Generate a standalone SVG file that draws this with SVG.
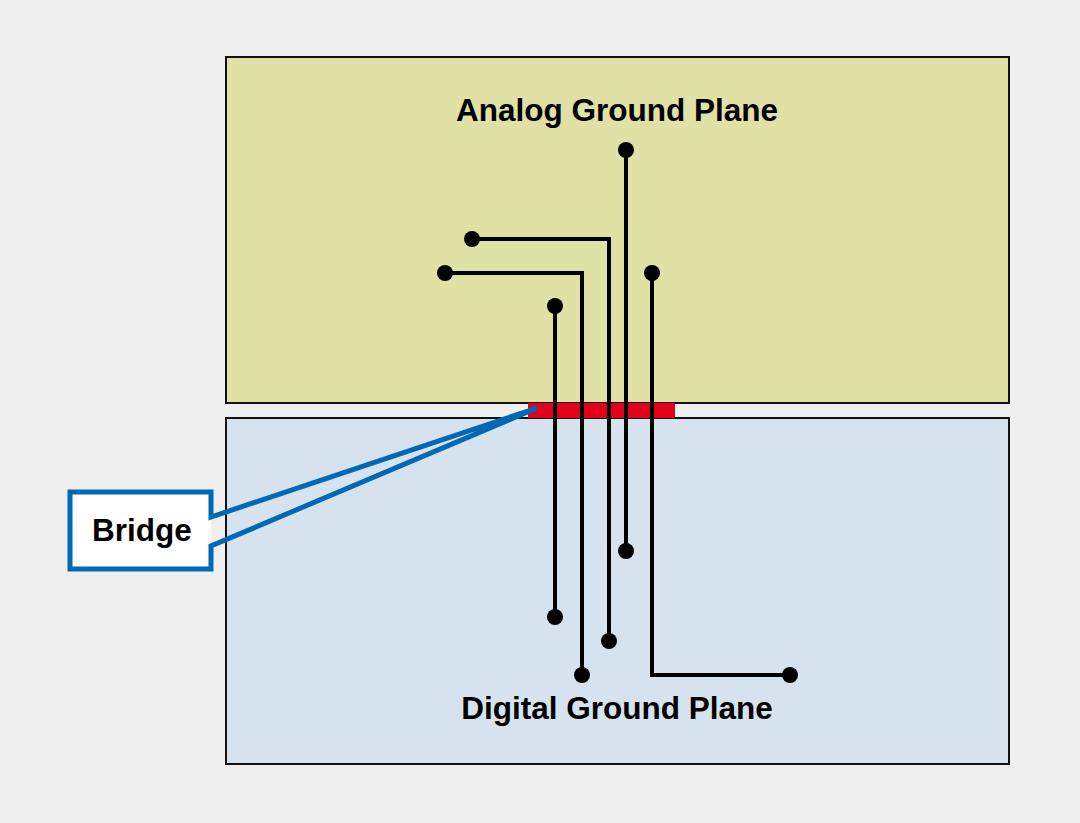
<svg xmlns="http://www.w3.org/2000/svg" width="1080" height="823" viewBox="0 0 1080 823">
<style>
.plane{stroke:#111;stroke-width:2}
.trace{fill:none;stroke:#000;stroke-width:4}
.dot{fill:#000}
.lbl{font-family:"Liberation Sans",Arial,sans-serif;font-weight:bold;font-size:31.5px;fill:#000;text-anchor:middle}
</style>
<rect width="1080" height="823" fill="#efefef"/>
<g id="analog-plane">
<rect class="plane" x="226" y="57" width="783" height="346" fill="#dfe1a5"/>
<text class="lbl" x="617" y="121">Analog Ground Plane</text>
</g>
<g id="digital-plane">
<rect class="plane" x="226" y="418" width="783" height="346" fill="#d6e3ee"/>
<text class="lbl" x="617" y="719">Digital Ground Plane</text>
</g>
<g id="bridge-bar">
<rect x="528" y="403" width="147" height="15" fill="#e2001a"/>
</g>
<g id="connectors">
<path class="trace" d="M626,150 V551"/>
<path class="trace" d="M472,239 H609 V641"/>
<path class="trace" d="M445,273 H582 V675"/>
<path class="trace" d="M555,306 V617"/>
<path class="trace" d="M652,273 V675 H790"/>
<circle class="dot" cx="626" cy="150" r="8"/>
<circle class="dot" cx="626" cy="551" r="8"/>
<circle class="dot" cx="472" cy="239" r="8"/>
<circle class="dot" cx="609" cy="641" r="8"/>
<circle class="dot" cx="445" cy="273" r="8"/>
<circle class="dot" cx="582" cy="675" r="8"/>
<circle class="dot" cx="555" cy="306" r="8"/>
<circle class="dot" cx="555" cy="617" r="8"/>
<circle class="dot" cx="652" cy="273" r="8"/>
<circle class="dot" cx="790" cy="675" r="8"/>
</g>
<g id="bridge-callout">
<rect x="70" y="492" width="141" height="77" fill="#ffffff"/>
<path d="M211,517 L211,492 L70,492 L70,569 L211,569 L211,546 L537,408 Z" fill="none" stroke="#0068b5" stroke-width="5" stroke-linejoin="miter"/>
<text class="lbl" x="142" y="541">Bridge</text>
</g>
</svg>
